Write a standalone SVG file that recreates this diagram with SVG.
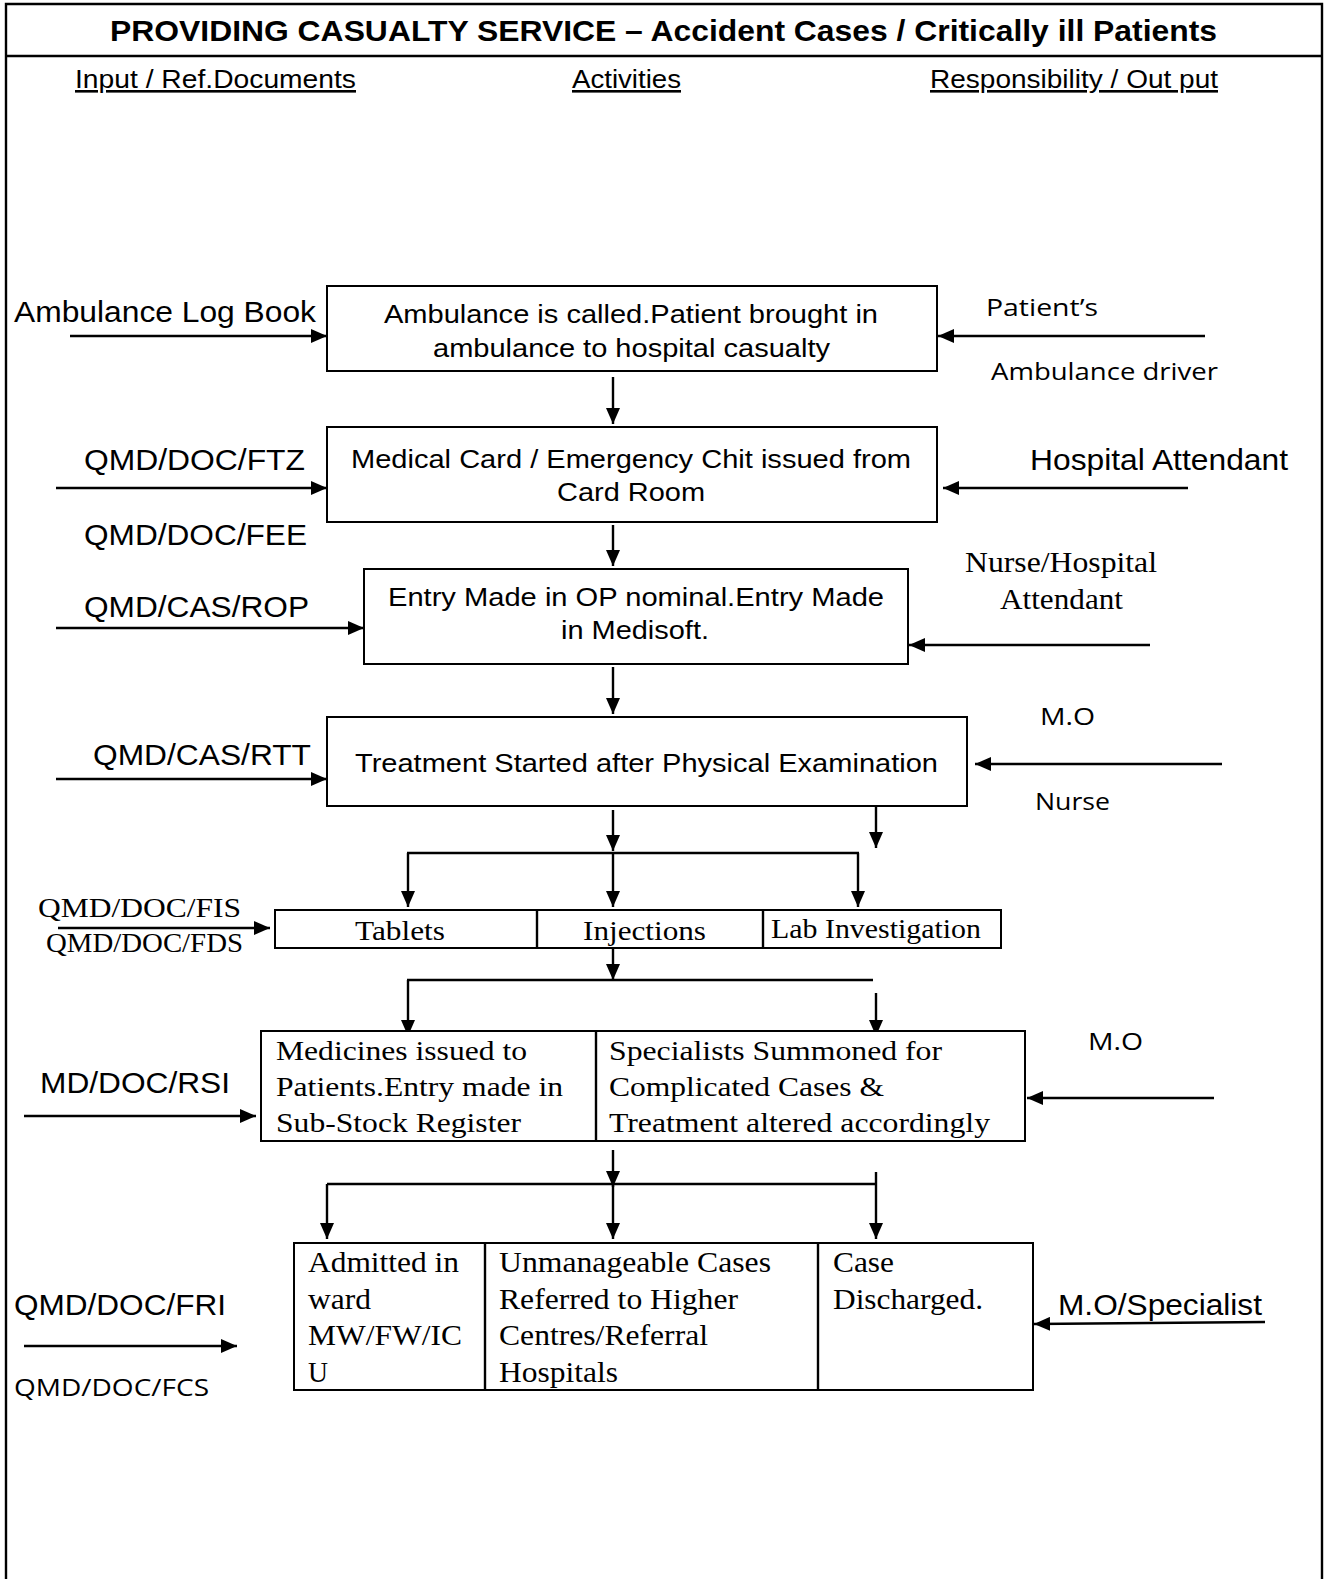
<svg xmlns="http://www.w3.org/2000/svg" width="1330" height="1579" viewBox="0 0 1330 1579">
<defs>
<marker id="ah" viewBox="0 0 16 14" refX="16" refY="7" markerWidth="16" markerHeight="14" markerUnits="userSpaceOnUse" orient="auto">
<path d="M0,0 L16,7 L0,14 Z" fill="#000"/>
</marker>
</defs>
<style>
.box{fill:#fff;stroke:#000;stroke-width:2}
.ln{stroke:#000;stroke-width:2.4;fill:none}
.ar{stroke:#000;stroke-width:2.4;fill:none;marker-end:url(#ah)}
.sans{font-family:"Liberation Sans",Arial,sans-serif;fill:#000}
.cal{font-family:"Open Sans","Noto Sans",sans-serif;fill:#000}
.ser{font-family:"Liberation Serif","Times New Roman",serif;fill:#000}
.hd{font-family:"Liberation Sans",Arial,sans-serif;font-size:26px;text-decoration:underline;fill:#000}
</style>
<rect width="1330" height="1579" fill="#fff"/>
<g id="frame">
<path d="M6,1579 L6,4 L1322,4 L1322,1579" class="ln"/>
<line x1="6" y1="56" x2="1322" y2="56" class="ln"/>
<text x="110" y="41" class="sans" font-size="30" font-weight="bold" textLength="1107" lengthAdjust="spacingAndGlyphs">PROVIDING CASUALTY SERVICE – Accident Cases / Critically ill Patients</text>
<text x="75" y="88" class="hd" textLength="281" lengthAdjust="spacingAndGlyphs">Input / Ref.Documents</text>
<text x="572" y="88" class="hd" textLength="109" lengthAdjust="spacingAndGlyphs">Activities</text>
<text x="930" y="88" class="hd" textLength="288" lengthAdjust="spacingAndGlyphs">Responsibility / Out put</text>
</g>
<g id="connectors">
<line x1="70" y1="336" x2="327" y2="336" class="ar"/>
<line x1="1205" y1="336" x2="938" y2="336" class="ar"/>
<line x1="613" y1="377" x2="613" y2="424" class="ar"/>
<line x1="56" y1="488" x2="327" y2="488" class="ar"/>
<line x1="1188" y1="488" x2="943" y2="488" class="ar"/>
<line x1="613" y1="525" x2="613" y2="566" class="ar"/>
<line x1="56" y1="628" x2="364" y2="628" class="ar"/>
<line x1="1150" y1="645" x2="909" y2="645" class="ar"/>
<line x1="613" y1="667" x2="613" y2="714" class="ar"/>
<line x1="56" y1="779" x2="327" y2="779" class="ar"/>
<line x1="1222" y1="764" x2="975" y2="764" class="ar"/>
<line x1="613" y1="810" x2="613" y2="851" class="ar"/>
<line x1="876" y1="802" x2="876" y2="848" class="ar"/>
<line x1="407" y1="853" x2="859" y2="853" class="ln"/>
<line x1="408" y1="853" x2="408" y2="907" class="ar"/>
<line x1="613" y1="853" x2="613" y2="907" class="ar"/>
<line x1="858" y1="853" x2="858" y2="907" class="ar"/>
<line x1="58" y1="928" x2="270" y2="928" class="ar"/>
<line x1="613" y1="940" x2="613" y2="980" class="ar"/>
<line x1="407" y1="980" x2="873" y2="980" class="ln"/>
<line x1="408" y1="980" x2="408" y2="1036" class="ar"/>
<line x1="876" y1="993" x2="876" y2="1036" class="ar"/>
<line x1="24" y1="1116" x2="256" y2="1116" class="ar"/>
<line x1="1214" y1="1098" x2="1027" y2="1098" class="ar"/>
<line x1="613" y1="1150" x2="613" y2="1187" class="ar"/>
<line x1="327" y1="1184" x2="876" y2="1184" class="ln"/>
<line x1="327" y1="1184" x2="327" y2="1239" class="ar"/>
<line x1="613" y1="1184" x2="613" y2="1239" class="ar"/>
<line x1="876" y1="1172" x2="876" y2="1239" class="ar"/>
<line x1="24" y1="1346" x2="237" y2="1346" class="ar"/>
<line x1="1265" y1="1322" x2="1034" y2="1324" class="ar"/>
</g>
<g id="n1">
<rect x="327" y="286" width="610" height="85" class="box"/>
<text x="384" y="323" class="sans" font-size="26" textLength="494" lengthAdjust="spacingAndGlyphs">Ambulance is called.Patient brought in</text>
<text x="433" y="357" class="sans" font-size="26" textLength="397" lengthAdjust="spacingAndGlyphs">ambulance to hospital casualty</text>
</g>
<g id="n2">
<rect x="327" y="427" width="610" height="95" class="box"/>
<text x="351" y="468" class="sans" font-size="26" textLength="560" lengthAdjust="spacingAndGlyphs">Medical Card / Emergency Chit issued from</text>
<text x="557" y="501" class="sans" font-size="26" textLength="148" lengthAdjust="spacingAndGlyphs">Card Room</text>
</g>
<g id="n3">
<rect x="364" y="569" width="544" height="95" class="box"/>
<text x="388" y="606" class="sans" font-size="26" textLength="496" lengthAdjust="spacingAndGlyphs">Entry Made in OP nominal.Entry Made</text>
<text x="561" y="639" class="sans" font-size="26" textLength="148" lengthAdjust="spacingAndGlyphs">in Medisoft.</text>
</g>
<g id="n4">
<rect x="327" y="717" width="640" height="89" class="box"/>
<text x="355" y="772" class="sans" font-size="26" textLength="583" lengthAdjust="spacingAndGlyphs">Treatment Started after Physical Examination</text>
</g>
<g id="n5">
<rect x="275" y="910" width="726" height="38" class="box"/>
<line x1="537" y1="910" x2="537" y2="948" class="ln"/>
<line x1="763" y1="910" x2="763" y2="948" class="ln"/>
<text x="355" y="940" class="ser" font-size="28" textLength="90" lengthAdjust="spacingAndGlyphs">Tablets</text>
<text x="583" y="940" class="ser" font-size="28" textLength="123" lengthAdjust="spacingAndGlyphs">Injections</text>
<text x="771" y="938" class="ser" font-size="28" textLength="210" lengthAdjust="spacingAndGlyphs">Lab Investigation</text>
</g>
<g id="n6">
<rect x="261" y="1031" width="764" height="110" class="box"/>
<line x1="596" y1="1031" x2="596" y2="1141" class="ln"/>
<text x="276" y="1060" class="ser" font-size="28" textLength="251" lengthAdjust="spacingAndGlyphs">Medicines issued to</text>
<text x="276" y="1096" class="ser" font-size="28" textLength="287" lengthAdjust="spacingAndGlyphs">Patients.Entry made in</text>
<text x="276" y="1132" class="ser" font-size="28" textLength="245" lengthAdjust="spacingAndGlyphs">Sub-Stock Register</text>
<text x="609" y="1060" class="ser" font-size="28" textLength="333" lengthAdjust="spacingAndGlyphs">Specialists Summoned for</text>
<text x="609" y="1096" class="ser" font-size="28" textLength="275" lengthAdjust="spacingAndGlyphs">Complicated Cases &amp;</text>
<text x="609" y="1132" class="ser" font-size="28" textLength="381" lengthAdjust="spacingAndGlyphs">Treatment altered accordingly</text>
</g>
<g id="n7">
<rect x="294" y="1243" width="739" height="147" class="box"/>
<line x1="485" y1="1243" x2="485" y2="1390" class="ln"/>
<line x1="818" y1="1243" x2="818" y2="1390" class="ln"/>
<text x="308" y="1272" class="ser" font-size="29" textLength="151" lengthAdjust="spacingAndGlyphs">Admitted in</text>
<text x="308" y="1309" class="ser" font-size="29" textLength="63" lengthAdjust="spacingAndGlyphs">ward</text>
<text x="308" y="1345" class="ser" font-size="29" textLength="154" lengthAdjust="spacingAndGlyphs">MW/FW/IC</text>
<text x="308" y="1382" class="ser" font-size="29" textLength="20" lengthAdjust="spacingAndGlyphs">U</text>
<text x="499" y="1272" class="ser" font-size="29" textLength="272" lengthAdjust="spacingAndGlyphs">Unmanageable Cases</text>
<text x="499" y="1309" class="ser" font-size="29" textLength="239" lengthAdjust="spacingAndGlyphs">Referred to Higher</text>
<text x="499" y="1345" class="ser" font-size="29" textLength="209" lengthAdjust="spacingAndGlyphs">Centres/Referral</text>
<text x="499" y="1382" class="ser" font-size="29" textLength="119" lengthAdjust="spacingAndGlyphs">Hospitals</text>
<text x="833" y="1272" class="ser" font-size="29" textLength="61" lengthAdjust="spacingAndGlyphs">Case</text>
<text x="833" y="1309" class="ser" font-size="29" textLength="150" lengthAdjust="spacingAndGlyphs">Discharged.</text>
</g>
<g id="inputs">
<text x="14" y="322" class="sans" font-size="29" textLength="302" lengthAdjust="spacingAndGlyphs">Ambulance Log Book</text>
<text x="84" y="470" class="sans" font-size="29" textLength="221" lengthAdjust="spacingAndGlyphs">QMD/DOC/FTZ</text>
<text x="84" y="545" class="sans" font-size="29" textLength="223" lengthAdjust="spacingAndGlyphs">QMD/DOC/FEE</text>
<text x="84" y="617" class="sans" font-size="29" textLength="225" lengthAdjust="spacingAndGlyphs">QMD/CAS/ROP</text>
<text x="93" y="765" class="sans" font-size="29" textLength="218" lengthAdjust="spacingAndGlyphs">QMD/CAS/RTT</text>
<text x="38" y="917" class="ser" font-size="28" textLength="203" lengthAdjust="spacingAndGlyphs">QMD/DOC/FIS</text>
<text x="46" y="952" class="ser" font-size="28" textLength="197" lengthAdjust="spacingAndGlyphs">QMD/DOC/FDS</text>
<text x="40" y="1093" class="sans" font-size="29" textLength="190" lengthAdjust="spacingAndGlyphs">MD/DOC/RSI</text>
<text x="14" y="1315" class="sans" font-size="29" textLength="212" lengthAdjust="spacingAndGlyphs">QMD/DOC/FRI</text>
<text x="14" y="1396" class="cal" font-size="24" textLength="195" lengthAdjust="spacingAndGlyphs">QMD/DOC/FCS</text>
</g>
<g id="responsibility">
<text x="986" y="316" class="cal" font-size="24" textLength="112" lengthAdjust="spacingAndGlyphs">Patient’s</text>
<text x="991" y="380" class="cal" font-size="24" textLength="227" lengthAdjust="spacingAndGlyphs">Ambulance driver</text>
<text x="1030" y="470" class="sans" font-size="29" textLength="258" lengthAdjust="spacingAndGlyphs">Hospital Attendant</text>
<text x="965" y="572" class="ser" font-size="29" textLength="192" lengthAdjust="spacingAndGlyphs">Nurse/Hospital</text>
<text x="1000" y="609" class="ser" font-size="29" textLength="123" lengthAdjust="spacingAndGlyphs">Attendant</text>
<text x="1040" y="725" class="cal" font-size="24" textLength="55" lengthAdjust="spacingAndGlyphs">M.O</text>
<text x="1035" y="810" class="cal" font-size="24" textLength="75" lengthAdjust="spacingAndGlyphs">Nurse</text>
<text x="1088" y="1050" class="cal" font-size="24" textLength="55" lengthAdjust="spacingAndGlyphs">M.O</text>
<text x="1058" y="1315" class="sans" font-size="29" textLength="204" lengthAdjust="spacingAndGlyphs">M.O/Specialist</text>
</g>
</svg>
